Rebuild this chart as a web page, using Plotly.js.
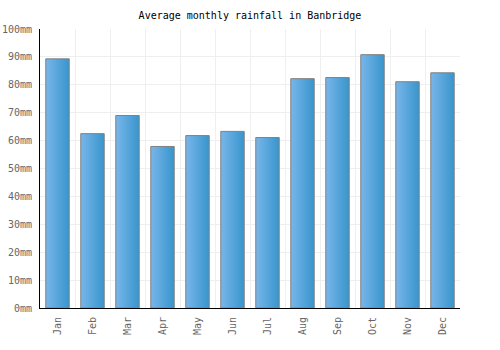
<!DOCTYPE html>
<html>
<head>
<meta charset="utf-8">
<script src="https://cdn.plot.ly/plotly-3.0.1.min.js"></script>
<style>html,body{margin:0;padding:0;background:#fff;}#chart{width:500px;height:350px;}</style>
</head>
<body>
<div id="chart"></div>
<script>
const months = ["Jan","Feb","Mar","Apr","May","Jun","Jul","Aug","Sep","Oct","Nov","Dec"];
const rainfall = [89.3, 62.5, 69.0, 57.9, 61.8, 63.3, 61.1, 82.2, 82.6, 90.8, 81.1, 84.3];
const yTicks = [0,10,20,30,40,50,60,70,80,90,100];
const yTickLabels = yTicks.map(v => v + "mm");

const font = "DejaVu Sans Mono, monospace";
const trace = {
  type: "bar",
  x: months,
  y: rainfall,
  marker: {color: "#55a6dc", line: {color: "#808080", width: 1}},
  hoverinfo: "x+y"
};
const layout = {
  width: 500, height: 350,
  margin: {l: 40, r: 40, t: 29, b: 42},
  paper_bgcolor: "#ffffff", plot_bgcolor: "#ffffff",
  title: {text: "Average monthly rainfall in Banbridge", font: {family: font, size: 10, color: "#000"}, x: 0.5, xanchor: "center", y: 0.957, yanchor: "middle"},
  bargap: 0.33,
  showlegend: false,
  xaxis: {
    type: "category", tickson: "boundaries", showgrid: true, gridcolor: "#efefef", gridwidth: 1,
    showline: true, linecolor: "#000", linewidth: 1, ticks: "", ticklabelstandoff: 4, tickangle: -90,
    tickfont: {family: font, size: 10, color: "#666"}, zeroline: false
  },
  yaxis: {
    range: [0, 100], tickvals: yTicks, ticktext: yTickLabels, showgrid: true, gridcolor: "#efefef",
    showline: true, linecolor: "#000", linewidth: 1, ticks: "", ticklabelstandoff: 5, zeroline: false,
    tickfont: {family: font, size: 10, color: "#666"}
  }
};
Plotly.newPlot("chart", [trace], layout, {displayModeBar: false, staticPlot: true}).then(gd => {
  const svg = gd.querySelector("svg.main-svg");
  const ns = "http://www.w3.org/2000/svg";
  let defs = svg.querySelector("defs");
  if (!defs) { defs = document.createElementNS(ns, "defs"); svg.insertBefore(defs, svg.firstChild); }
  const g = document.createElementNS(ns, "linearGradient");
  g.setAttribute("id", "barGrad");
  g.setAttribute("gradientUnits", "objectBoundingBox");
  g.setAttribute("x1", "0"); g.setAttribute("y1", "0"); g.setAttribute("x2", "1"); g.setAttribute("y2", "0");
  [["0%", "#78b6ea"], ["100%", "#3895cc"]].forEach(([o, c]) => {
    const s = document.createElementNS(ns, "stop");
    s.setAttribute("offset", o); s.setAttribute("stop-color", c); g.appendChild(s);
  });
  defs.appendChild(g);
  gd.querySelectorAll(".bars .point path").forEach(p => { p.style.fill = "url(#barGrad)"; });
});
</script>
</body>
</html>
